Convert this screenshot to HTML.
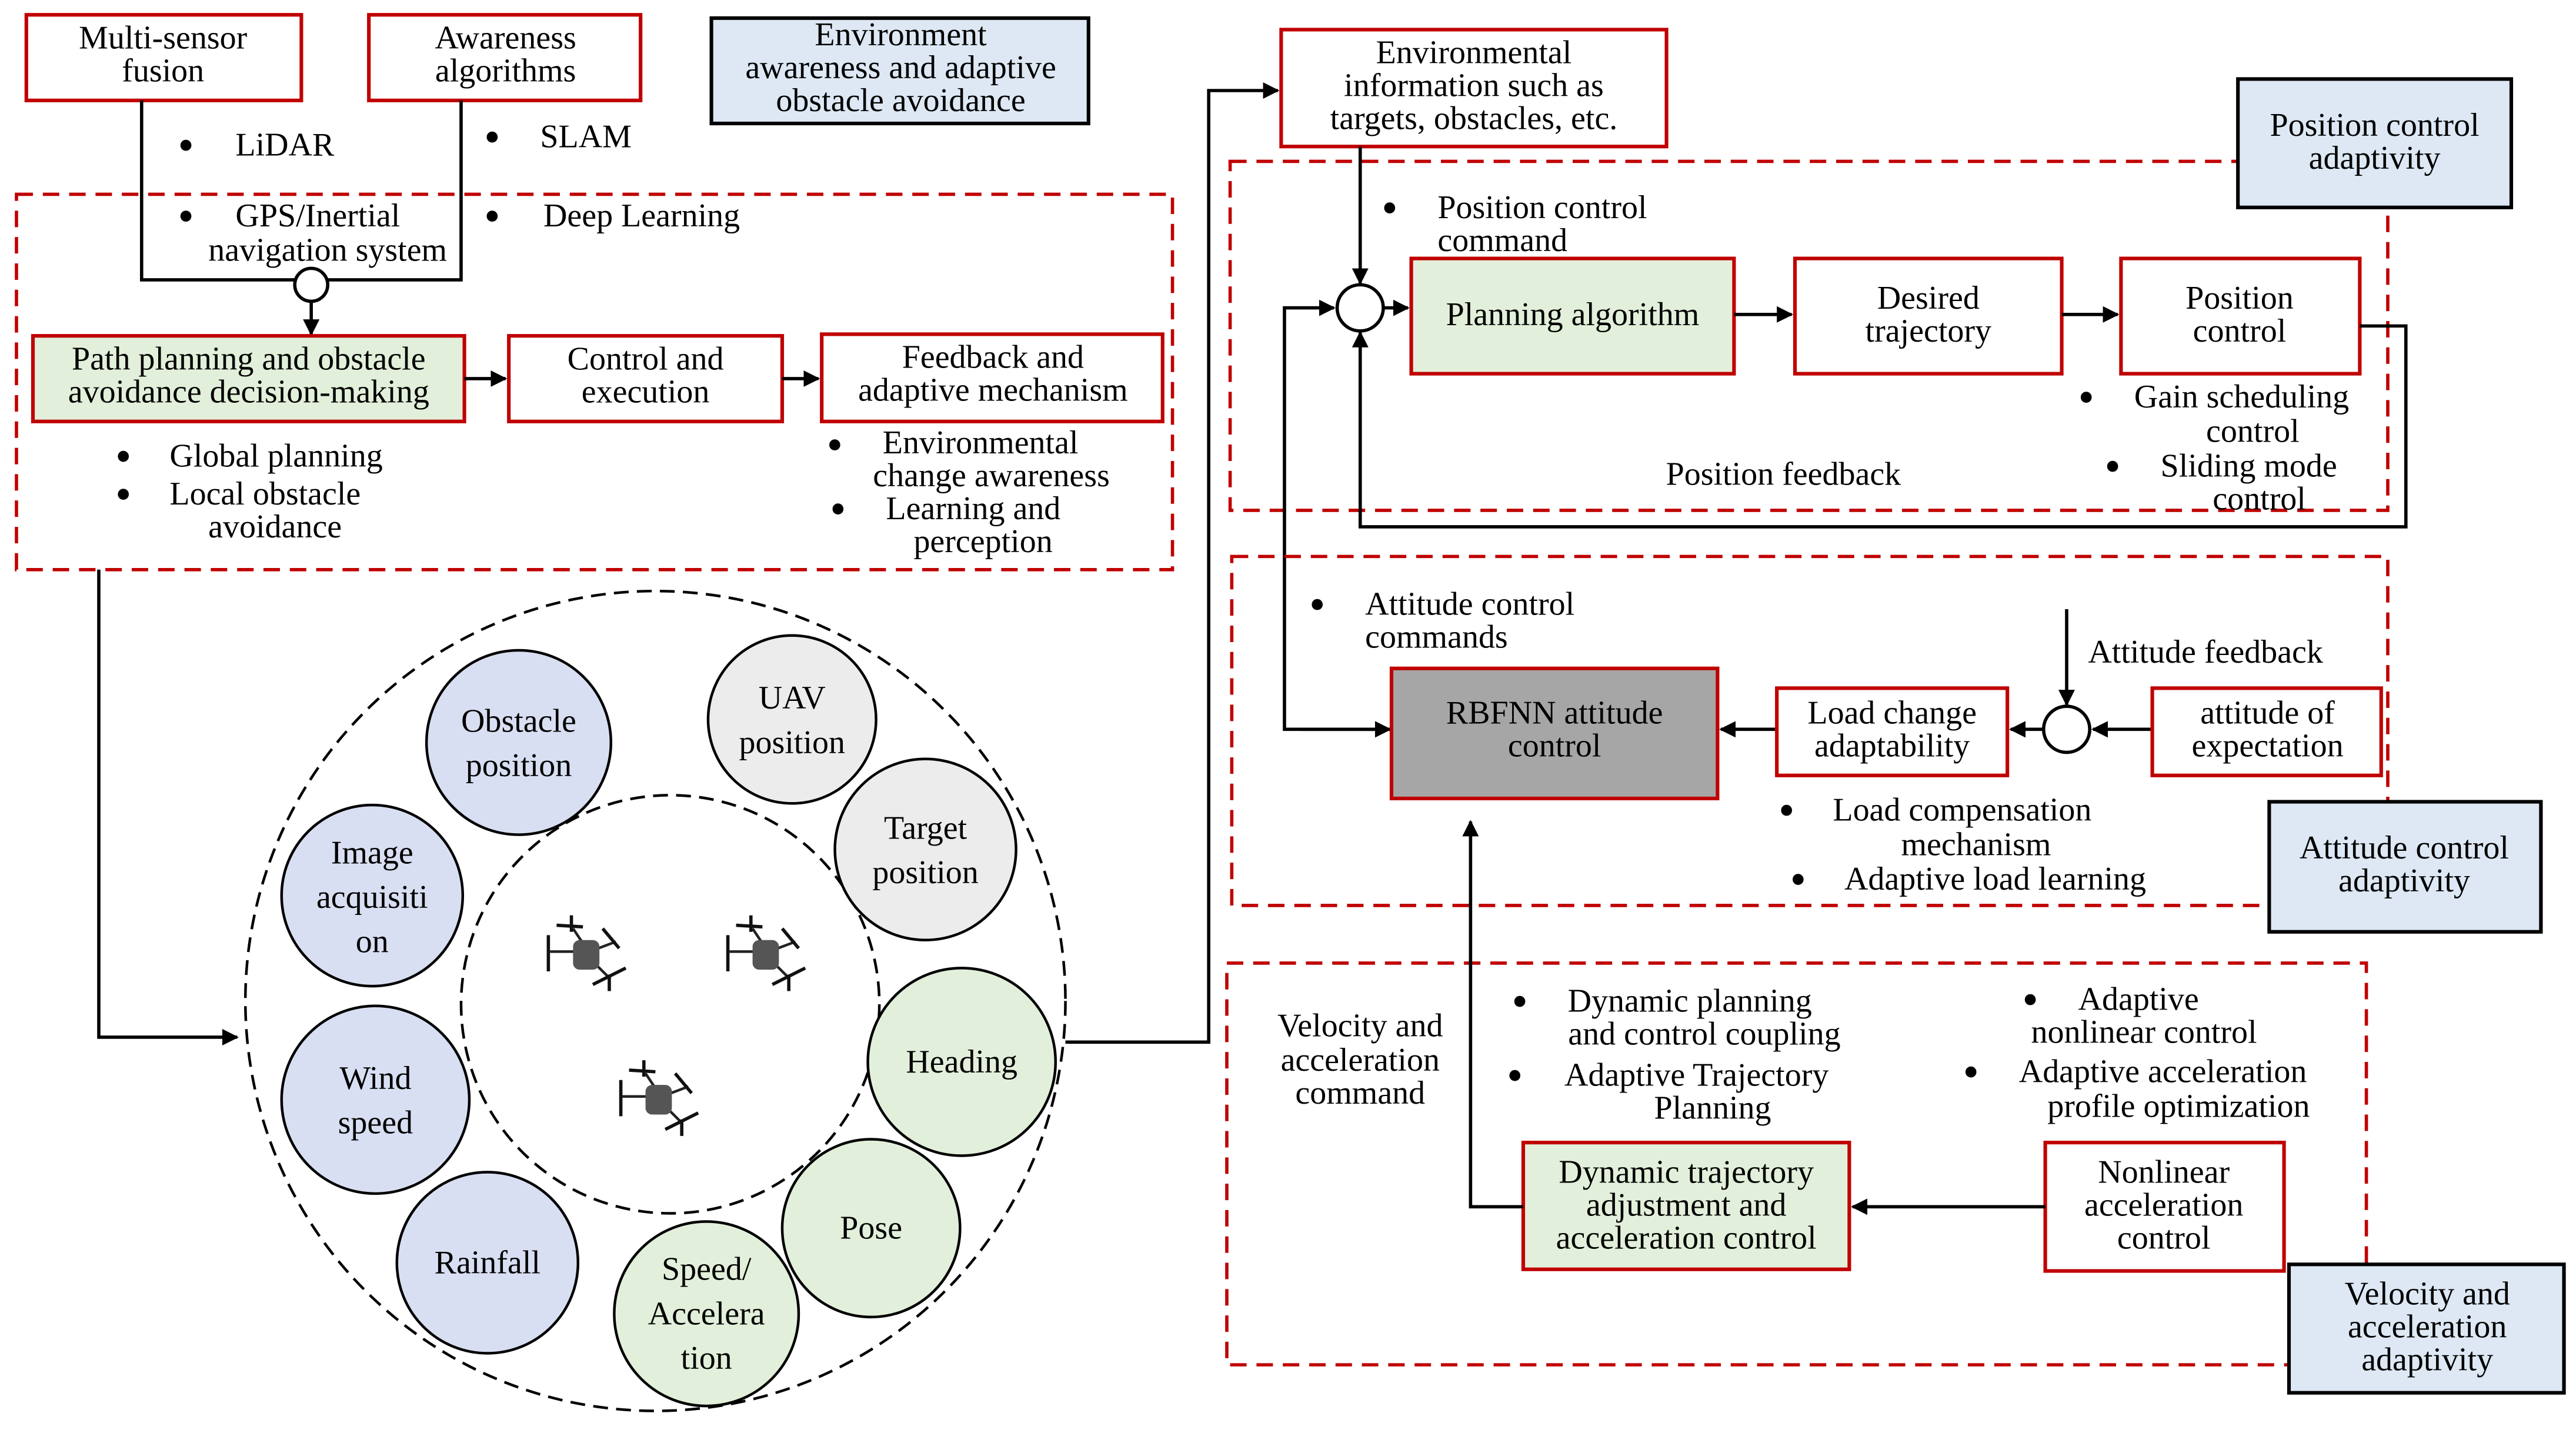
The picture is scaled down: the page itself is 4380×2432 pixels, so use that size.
<!DOCTYPE html>
<html><head><meta charset="utf-8"><style>
html,body{margin:0;padding:0;background:#fff}
svg{display:block}
text{font-family:"Liberation Serif",serif;font-size:20px;fill:#000;dominant-baseline:central}
text.b{font-size:28px}
.c{text-anchor:middle}
.rb{fill:#fff;stroke:#c00000;stroke-width:2.2}
.gb{fill:#e2efda;stroke:#c00000;stroke-width:2.2}
.bb{fill:#dde8f4;stroke:#000;stroke-width:2.2}
.dr{fill:none;stroke:#c00000;stroke-width:2;stroke-dasharray:10 6}
.ln{fill:none;stroke:#000;stroke-width:2}
.ci{stroke:#000;stroke-width:1.6}
</style></head><body>
<svg width="4380" height="2432" viewBox="0 0 1564.3 868.6" preserveAspectRatio="none" xmlns="http://www.w3.org/2000/svg">
<defs>
<marker id="a" markerWidth="10" markerHeight="10" refX="9" refY="5" orient="auto" markerUnits="userSpaceOnUse"><path d="M0,0 L10,5 L0,10 Z" fill="#000"/></marker>
<g id="dr">
<g stroke="#222" stroke-width="1.6" fill="none">
<path d="M-2,-2 L-22,-2 M0,-4 L-8,-16 M2,-2 L18,-8 M2,2 L14,14"/>
</g>
<rect x="-8" y="-9" width="16" height="18" rx="4" fill="#555"/>
<g stroke="#111" stroke-width="2">
<path d="M-23,-12 L-23,10 M-18,-18 L-2,-17 M10,-16 L20,-4 M4,18 L24,8 M14,12 L14,22 M-9,-24 L-9,-14"/>
</g>
</g>
</defs>

<rect class="rb" x="16" y="9" width="167" height="52"/>
<text class="c" x="99" y="23">Multi-sensor</text><text class="c" x="99" y="43">fusion</text>
<rect class="rb" x="224" y="9" width="165" height="52"/>
<text class="c" x="307" y="23">Awareness</text><text class="c" x="307" y="43">algorithms</text>
<rect class="bb" x="432" y="11" width="229" height="64"/>
<text class="c" x="547" y="21">Environment</text><text class="c" x="547" y="41">awareness and adaptive</text><text class="c" x="547" y="61">obstacle avoidance</text>

<path class="ln" d="M86,61 V170 H280 V61"/>
<circle cx="189" cy="173" r="10" fill="#fff" stroke="#000" stroke-width="2"/>
<path class="ln" d="M189,183 V203" marker-end="url(#a)"/>

<rect class="dr" x="10" y="118" width="702" height="228"/>
<text class="b" x="108" y="88">•</text><text x="143" y="88">LiDAR</text>
<text class="b" x="108" y="131">•</text><text x="143" y="131">GPS/Inertial</text>
<text class="c" x="199" y="152">navigation system</text>
<text class="b" x="294" y="83">•</text><text x="328" y="83">SLAM</text>
<text class="b" x="294" y="131">•</text><text x="330" y="131">Deep Learning</text>

<rect class="gb" x="20" y="204" width="262" height="52"/>
<text class="c" x="151" y="218">Path planning and obstacle</text><text class="c" x="151" y="238">avoidance decision-making</text>
<path class="ln" d="M282,230 H307" marker-end="url(#a)"/>
<rect class="rb" x="309" y="204" width="166" height="52"/>
<text class="c" x="392" y="218">Control and</text><text class="c" x="392" y="238">execution</text>
<path class="ln" d="M475,230 H497" marker-end="url(#a)"/>
<rect class="rb" x="499" y="203" width="207" height="53"/>
<text class="c" x="603" y="217">Feedback and</text><text class="c" x="603" y="237">adaptive mechanism</text>

<text class="b" x="70" y="277">•</text><text x="103" y="277">Global planning</text>
<text class="b" x="70" y="300">•</text><text x="103" y="300">Local obstacle</text>
<text class="c" x="167" y="320">avoidance</text>
<text class="b" x="502" y="270">•</text><text x="536" y="269">Environmental</text>
<text class="c" x="602" y="289">change awareness</text>
<text class="b" x="504" y="309">•</text><text x="538" y="309">Learning and</text>
<text class="c" x="597" y="329">perception</text>

<path class="ln" d="M60,346 V630 H144" marker-end="url(#a)"/>
<circle cx="398" cy="608" r="249" fill="none" stroke="#000" stroke-width="1.6" stroke-dasharray="9 5"/>
<circle cx="407" cy="610" r="127" fill="none" stroke="#000" stroke-width="1.6" stroke-dasharray="9 5"/>
<circle class="ci" cx="315" cy="451" r="56" fill="#d9dff2"/>
<text class="c" x="315" y="438">Obstacle</text><text class="c" x="315" y="465">position</text>
<circle class="ci" cx="481" cy="437" r="51" fill="#ececec"/>
<text class="c" x="481" y="424">UAV</text><text class="c" x="481" y="451">position</text>
<circle class="ci" cx="562" cy="516" r="55" fill="#ececec"/>
<text class="c" x="562" y="503">Target</text><text class="c" x="562" y="530">position</text>
<circle class="ci" cx="226" cy="544" r="55" fill="#d9dff2"/>
<text class="c" x="226" y="518">Image</text><text class="c" x="226" y="545">acquisiti</text><text class="c" x="226" y="572">on</text>
<circle class="ci" cx="228" cy="668" r="57" fill="#d9dff2"/>
<text class="c" x="228" y="655">Wind</text><text class="c" x="228" y="682">speed</text>
<circle class="ci" cx="296" cy="767" r="55" fill="#d9dff2"/>
<text class="c" x="296" y="767">Rainfall</text>
<circle class="ci" cx="584" cy="645" r="57" fill="#e2efda"/>
<text class="c" x="584" y="645">Heading</text>
<circle class="ci" cx="529" cy="746" r="54" fill="#e2efda"/>
<text class="c" x="529" y="746">Pose</text>
<circle class="ci" cx="429" cy="798" r="56" fill="#e2efda"/>
<text class="c" x="429" y="771">Speed/</text><text class="c" x="429" y="798">Accelera</text><text class="c" x="429" y="825">tion</text>
<use href="#dr" x="356" y="580"/>
<use href="#dr" x="465" y="580"/>
<use href="#dr" x="400" y="668"/>

<path class="ln" d="M647,633 H734 V55 H776" marker-end="url(#a)"/>
<rect class="rb" x="778" y="18" width="234" height="71"/>
<text class="c" x="895" y="32">Environmental</text><text class="c" x="895" y="52">information such as</text><text class="c" x="895" y="72">targets, obstacles, etc.</text>

<rect class="dr" x="747" y="98" width="703" height="212"/>
<rect class="bb" x="1359" y="48" width="166" height="78"/>
<text class="c" x="1442" y="76">Position control</text><text class="c" x="1442" y="96">adaptivity</text>
<path class="ln" d="M826,89 V172" marker-end="url(#a)"/>
<text class="b" x="839" y="126">•</text><text x="873" y="126">Position control</text><text x="873" y="146">command</text>
<circle cx="826" cy="187" r="14" fill="#fff" stroke="#000" stroke-width="2"/>
<path class="ln" d="M840,187 H855" marker-end="url(#a)"/>
<rect class="gb" x="857" y="157" width="196" height="70"/>
<text class="c" x="955" y="191">Planning algorithm</text>
<path class="ln" d="M1053,191 H1088" marker-end="url(#a)"/>
<rect class="rb" x="1090" y="157" width="162" height="70"/>
<text class="c" x="1171" y="181">Desired</text><text class="c" x="1171" y="201">trajectory</text>
<path class="ln" d="M1252,191 H1286" marker-end="url(#a)"/>
<rect class="rb" x="1288" y="157" width="145" height="70"/>
<text class="c" x="1360" y="181">Position</text><text class="c" x="1360" y="201">control</text>
<path class="ln" d="M1433,198 H1461 V320 H826 V202" marker-end="url(#a)"/>
<text class="c" x="1083" y="288">Position feedback</text>
<text class="b" x="1262" y="241">•</text><text x="1296" y="241">Gain scheduling</text>
<text class="c" x="1368" y="262">control</text>
<text class="b" x="1278" y="283">•</text><text x="1312" y="283">Sliding mode</text>
<text class="c" x="1372" y="303">control</text>
<path class="ln" d="M845,443 H780 V187 H810" marker-end="url(#a)"/>
<path class="ln" d="M790,443 H844" marker-end="url(#a)"/>

<rect class="dr" x="748" y="338" width="702" height="212"/>
<text class="b" x="795" y="367">•</text><text x="829" y="367">Attitude control</text><text x="829" y="387">commands</text>
<rect x="845" y="406" width="198" height="79" fill="#a6a6a6" stroke="#c00000" stroke-width="2.2"/>
<text class="c" x="944" y="433">RBFNN attitude</text><text class="c" x="944" y="453">control</text>
<path class="ln" d="M1079,443 H1045" marker-end="url(#a)"/>
<rect class="rb" x="1079" y="418" width="140" height="53"/>
<text class="c" x="1149" y="433">Load change</text><text class="c" x="1149" y="453">adaptability</text>
<circle cx="1255" cy="443" r="14" fill="#fff" stroke="#000" stroke-width="2"/>
<path class="ln" d="M1241,443 H1221" marker-end="url(#a)"/>
<path class="ln" d="M1306,443 H1271" marker-end="url(#a)"/>
<path class="ln" d="M1255,370 V428" marker-end="url(#a)"/>
<text x="1268" y="396">Attitude feedback</text>
<rect class="rb" x="1307" y="418" width="139" height="53"/>
<text class="c" x="1377" y="433">attitude of</text><text class="c" x="1377" y="453">expectation</text>
<text class="b" x="1080" y="492">•</text><text x="1113" y="492">Load compensation</text>
<text class="c" x="1200" y="513">mechanism</text>
<text class="b" x="1087" y="534">•</text><text x="1120" y="534">Adaptive load learning</text>
<rect class="bb" x="1378" y="487" width="165" height="79"/>
<text class="c" x="1460" y="515">Attitude control</text><text class="c" x="1460" y="535">adaptivity</text>

<rect class="dr" x="745" y="585" width="692" height="244"/>
<rect class="bb" x="1390" y="768" width="167" height="78"/>
<text class="c" x="1474" y="786">Velocity and</text><text class="c" x="1474" y="806">acceleration</text><text class="c" x="1474" y="826">adaptivity</text>
<text class="c" x="826" y="623">Velocity and</text><text class="c" x="826" y="644">acceleration</text><text class="c" x="826" y="664">command</text>
<text class="b" x="918" y="608">•</text><text x="952" y="608">Dynamic planning</text>
<text class="c" x="1035" y="628">and control coupling</text>
<text class="b" x="915" y="653">•</text><text x="950" y="653">Adaptive Trajectory</text>
<text class="c" x="1040" y="673">Planning</text>
<text class="b" x="1228" y="607">•</text><text x="1262" y="607">Adaptive</text>
<text class="c" x="1302" y="627">nonlinear control</text>
<text class="b" x="1192" y="651">•</text><text x="1226" y="651">Adaptive acceleration</text>
<text class="c" x="1323" y="672">profile optimization</text>
<rect class="gb" x="925" y="694" width="198" height="77"/>
<text class="c" x="1024" y="712">Dynamic trajectory</text><text class="c" x="1024" y="732">adjustment and</text><text class="c" x="1024" y="752">acceleration control</text>
<rect class="rb" x="1242" y="694" width="145" height="78"/>
<text class="c" x="1314" y="712">Nonlinear</text><text class="c" x="1314" y="732">acceleration</text><text class="c" x="1314" y="752">control</text>
<path class="ln" d="M1242,733 H1125" marker-end="url(#a)"/>
<path class="ln" d="M925,733 H893 V499" marker-end="url(#a)"/>
</svg>
</body></html>
